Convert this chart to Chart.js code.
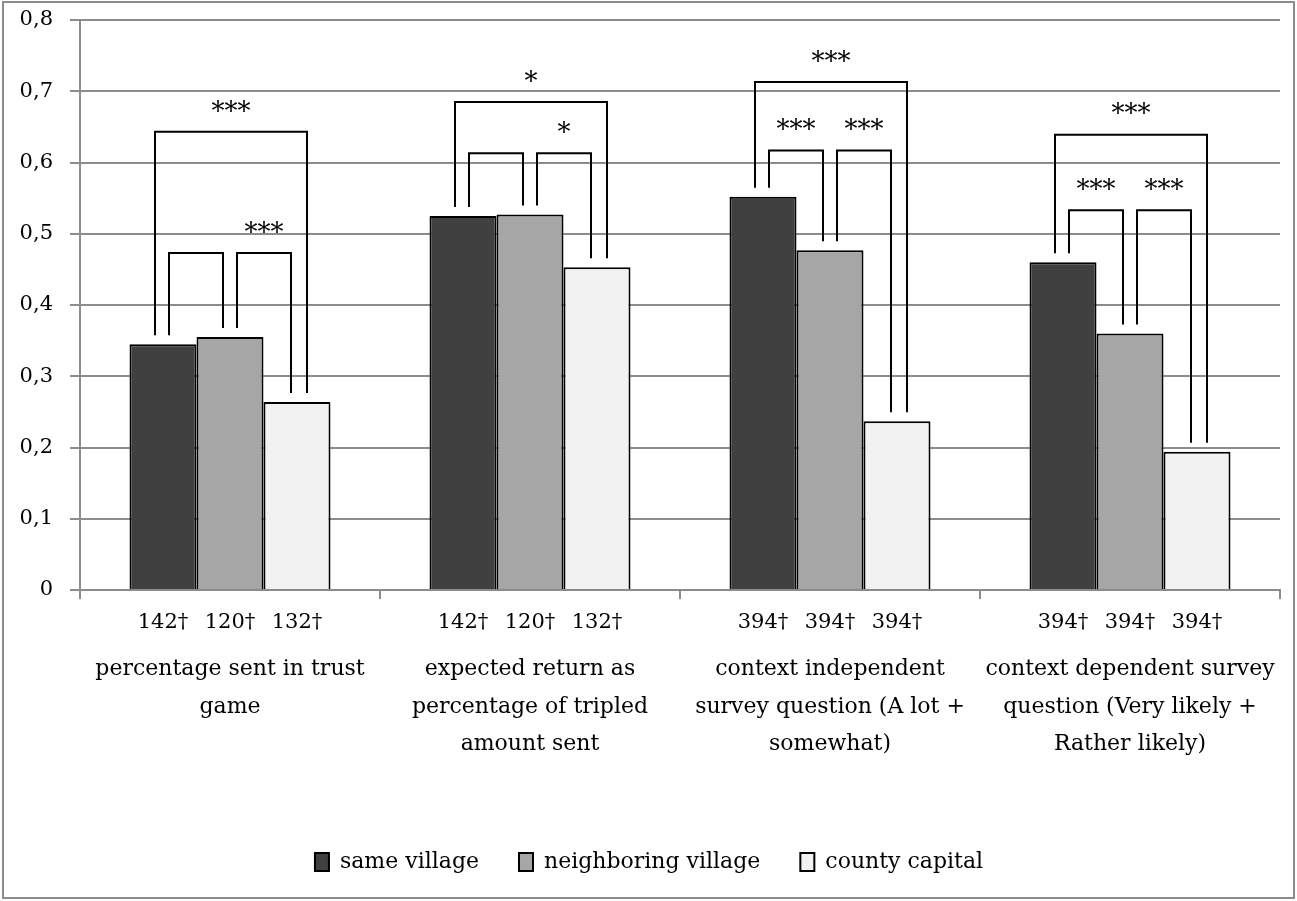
<!DOCTYPE html>
<html>
<head>
<meta charset="utf-8">
<script src="https://cdn.jsdelivr.net/npm/chart.js@4.4.1/dist/chart.umd.min.js"></script>
<style>
    html, body { margin: 0; padding: 0; background: #fff; }
    #khung { width: 1297px; height: 901px; position: relative; }
</style>
</head>
<body>
<div id="khung"><canvas id="bieudo"></canvas></div>
<script>
const categories = [
    ['percentage sent in trust', 'game'],
    ['expected return as', 'percentage of tripled', 'amount sent'],
    ['context independent', 'survey question (A lot +', 'somewhat)'],
    ['context dependent survey', 'question (Very likely +', 'Rather likely)']
];
const seriesNames = ['same village', 'neighboring village', 'county capital'];

const sameVillage = [0.345, 0.525, 0.552, 0.460];
const neighboringVillage = [0.355, 0.527, 0.477, 0.360];
const countyCapital = [0.264, 0.453, 0.237, 0.194];

/* so quan sat duoi moi cot */
const nSame = ['142†', '142†', '394†', '394†'];
const nNeighboring = ['120†', '120†', '394†', '394†'];
const nCounty = ['132†', '132†', '394†', '394†'];

/* ngoac so sanh: do cao va dau sao */
const bracketOuter = [0.643, 0.685, 0.713, 0.639];
const bracketInner = [0.473, 0.613, 0.617, 0.533];
const starsOuter = ['***', '*', '***', '***'];
const starsLeft = ['', '', '***', '***'];
const starsRight = ['***', '*', '***', '***'];

const yTickLabels = ['0', '0,1', '0,2', '0,3', '0,4', '0,5', '0,6', '0,7', '0,8'];

const fontName = '"DejaVu Serif"';
const gridColor = '#8c8c8c';

Chart.defaults.font.family = fontName;
Chart.defaults.font.size = 22;
Chart.defaults.color = '#000';

const borderPlugin = {
    id: 'vien',
    beforeDraw(chart) {
        const ctx = chart.ctx;
        ctx.save();
        ctx.fillStyle = '#fff';
        ctx.fillRect(0, 0, chart.width, chart.height);
        ctx.strokeStyle = gridColor;
        ctx.lineWidth = 2;
        ctx.strokeRect(3, 2, chart.width - 6, chart.height - 5);
        ctx.restore();
    }
};

const bracketPlugin = {
    id: 'ngoac',
    afterDatasetsDraw(chart) {
        const ctx = chart.ctx;
        const yScale = chart.scales.y;
        const vals = [sameVillage, neighboringVillage, countyCapital];
        const bars = [0, 1, 2].map(function (i) { return chart.getDatasetMeta(i).data; });

        ctx.save();
        ctx.strokeStyle = '#000';
        ctx.fillStyle = '#000';
        ctx.lineWidth = 2;
        ctx.font = '26px ' + fontName;
        ctx.textAlign = 'center';
        ctx.textBaseline = 'middle';

        categories.forEach(function (c, k) {
            function foot(s) {
                return yScale.getPixelForValue(vals[s][k]) - 9;
            }
            function drawBracket(s1, dx1, s2, dx2, h, label) {
                const x1 = bars[s1][k].x + dx1;
                const x2 = bars[s2][k].x + dx2;
                const top = yScale.getPixelForValue(h);
                ctx.beginPath();
                ctx.moveTo(x1, foot(s1));
                ctx.lineTo(x1, top);
                ctx.lineTo(x2, top);
                ctx.lineTo(x2, foot(s2));
                ctx.stroke();
                if (label) {
                    ctx.fillText(label, (x1 + x2) / 2, top - 19);
                }
            }
            drawBracket(0, -8, 2, 10, bracketOuter[k], starsOuter[k]);
            drawBracket(0, 6, 1, -7, bracketInner[k], starsLeft[k]);
            drawBracket(1, 7, 2, -6, bracketInner[k], starsRight[k]);
        });
        ctx.restore();
    }
};

const nPlugin = {
    id: 'soquansat',
    afterDraw(chart) {
        const ctx = chart.ctx;
        const nArr = [nSame, nNeighboring, nCounty];
        const yPos = chart.scales.x.top + 33;
        ctx.save();
        ctx.fillStyle = '#000';
        ctx.font = '21px ' + fontName;
        ctx.textAlign = 'center';
        ctx.textBaseline = 'middle';
        nArr.forEach(function (arr, s) {
            chart.getDatasetMeta(s).data.forEach(function (bar, k) {
                ctx.fillText(arr[k], bar.x, yPos);
            });
        });
        ctx.restore();
    }
};

const bieudo = document.getElementById('bieudo');

new Chart(bieudo, {
    type: 'bar',
    data: {
        labels: categories,
        datasets: [{
            label: seriesNames[0],
            data: sameVillage,
            backgroundColor: '#404040',
            borderColor: '#000',
            borderWidth: 2
        }, {
            label: seriesNames[1],
            data: neighboringVillage,
            backgroundColor: '#a6a6a6',
            borderColor: '#000',
            borderWidth: 2
        }, {
            label: seriesNames[2],
            data: countyCapital,
            backgroundColor: '#f2f2f2',
            borderColor: '#000',
            borderWidth: 2
        }]
    },
    options: {
        responsive: true,
        maintainAspectRatio: false,
        animation: false,
        layout: {
            padding: { top: 20, left: 18, right: 17, bottom: 18 }
        },
        datasets: {
            bar: { categoryPercentage: 0.67, barPercentage: 1 }
        },
        plugins: {
            legend: {
                position: 'bottom',
                labels: {
                    color: '#000',
                    boxWidth: 14,
                    boxHeight: 18,
                    padding: 40,
                    font: { family: fontName, size: 22 }
                }
            },
            tooltip: { enabled: false }
        },
        scales: {
            x: {
                offset: true,
                grid: {
                    offset: true,
                    drawOnChartArea: false,
                    tickLength: 9,
                    color: gridColor,
                    lineWidth: 2
                },
                border: { color: gridColor, width: 2 },
                ticks: {
                    padding: 52,
                    color: '#000',
                    maxRotation: 0,
                    autoSkip: false,
                    font: { family: fontName, size: 22, lineHeight: 1.7 }
                },
                afterFit: function (s) {
                    s.height = 221;
                    s.paddingLeft = 0;
                    s.paddingRight = 0;
                }
            },
            y: {
                min: 0,
                max: 0.8,
                grid: { color: gridColor, lineWidth: 2, tickLength: 10 },
                border: { color: gridColor, width: 2 },
                ticks: {
                    stepSize: 0.1,
                    padding: 17,
                    color: '#000',
                    font: { family: fontName, size: 21 },
                    callback: function (v) { return yTickLabels[Math.round(v * 10)]; }
                },
                afterFit: function (s) {
                    s.width = 62;
                    s.paddingTop = 0;
                    s.paddingBottom = 0;
                }
            }
        }
    },
    plugins: [borderPlugin, bracketPlugin, nPlugin]
});
</script>
</body>
</html>
